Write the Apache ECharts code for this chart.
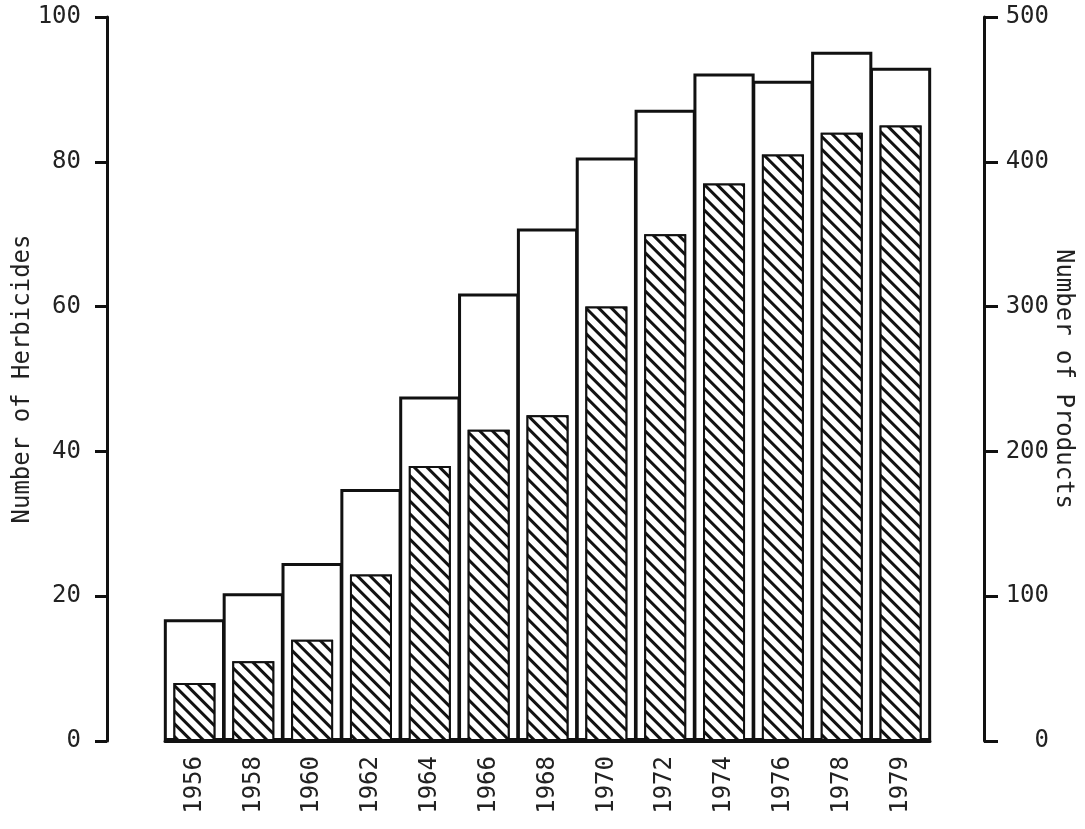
<!DOCTYPE html>
<html>
<head>
<meta charset="utf-8">
<script src="https://cdn.jsdelivr.net/npm/echarts@6/dist/echarts.min.js"></script>
<style>
html,body{margin:0;padding:0;background:#fff;}
#c{width:1085px;height:829px;}
</style>
</head>
<body>
<div id="c"></div>
<script>
// Categories (years)
const years = ['1956','1958','1960','1962','1964','1966','1968','1970','1972','1974','1976','1978','1979'];
// Outer open bars: Number of Products (right axis)
const products = [84, 102, 123, 174, 238, 309, 354, 403, 436, 461, 456, 476, 465];
// Inner hatched bars: Number of Herbicides (left axis)
const herbicides = [8, 11, 14, 23, 38, 43, 45, 60, 70, 77, 81, 84, 85];

const FONT = 'DejaVu Sans Mono';
const INK = '#111';
const TXT = '#222';

const chart = echarts.init(document.getElementById('c'), null, {renderer: 'canvas'});

chart.setOption({
  backgroundColor: '#fff',
  animation: false,
  grid: {left: 165, right: 155, top: 17, bottom: 88, containLabel: false, outerBoundsMode: 'none'},
  xAxis: [
    {
      type: 'category',
      data: years,
      boundaryGap: true,
      axisLine: {show: true, lineStyle: {color: INK, width: 3}},
      axisTick: {show: false},
      axisLabel: {rotate: 90, margin: 15, color: TXT, fontFamily: FONT, fontSize: 24}
    },
    {
      type: 'category',
      data: years,
      show: false
    }
  ],
  yAxis: [
    {
      type: 'value',
      name: 'Number of Herbicides',
      nameLocation: 'middle',
      nameGap: 72,
      nameMoveOverlap: false,
      nameTextStyle: {color: TXT, fontFamily: FONT, fontSize: 24},
      min: 0, max: 100, interval: 20,
      position: 'left',
      offset: 58,
      splitLine: {show: false},
      axisLine: {show: true, lineStyle: {color: INK, width: 3}},
      axisTick: {show: true, length: 12, lineStyle: {color: INK, width: 3}},
      axisLabel: {margin: 26, color: TXT, fontFamily: FONT, fontSize: 24}
    },
    {
      type: 'value',
      name: 'Number of Products',
      nameLocation: 'middle',
      nameGap: 67,
      nameMoveOverlap: false,
      nameRotate: -90,
      nameTextStyle: {color: TXT, fontFamily: FONT, fontSize: 24},
      min: 0, max: 500, interval: 100,
      position: 'right',
      offset: 54,
      splitLine: {show: false},
      axisLine: {show: true, lineStyle: {color: INK, width: 3}},
      axisTick: {show: true, length: 14, lineStyle: {color: INK, width: 3}},
      axisLabel: {margin: 65, align: 'right', color: TXT, fontFamily: FONT, fontSize: 24}
    }
  ],
  series: [
    {
      name: 'Number of Products',
      type: 'bar',
      xAxisIndex: 0,
      yAxisIndex: 1,
      data: products,
      barWidth: '104%',
      itemStyle: {color: '#fff', borderColor: INK, borderWidth: 3},
      z: 2
    },
    {
      name: 'Number of Herbicides',
      type: 'bar',
      xAxisIndex: 1,
      yAxisIndex: 0,
      data: herbicides,
      barWidth: 42,
      itemStyle: {
        color: '#fff',
        borderColor: INK,
        borderWidth: 2,
        decal: {
          symbol: 'rect',
          symbolSize: 1,
          dashArrayX: [[1, 0]],
          dashArrayY: [2.5, 5.5],
          rotation: Math.PI / 4,
          color: INK,
          backgroundColor: '#fff'
        }
      },
      z: 3
    }
  ]
});
</script>
</body>
</html>
